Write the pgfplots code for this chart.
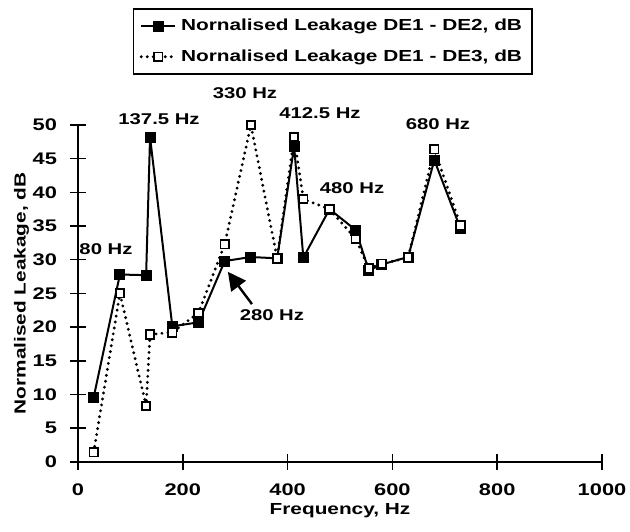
\documentclass[border=0pt]{standalone}
\usepackage{fontspec}
\setmainfont{Liberation Sans}[FakeStretch=1.3]
\usepackage{pgfplots}
\pgfplotsset{compat=1.18}
\usetikzlibrary{arrows.meta}
\begin{document}
\begin{tikzpicture}
\useasboundingbox (-39pt,-34.65pt) rectangle (276pt,230.85pt);
\begin{axis}[
  at={(0,0)}, anchor=south west,
  scale only axis,
  width=262pt, height=168.35pt,
  xmin=0, xmax=1000, ymin=0, ymax=50,
  xtick={0,200,...,1000}, ytick={0,5,...,50},
  axis x line*=bottom, axis y line*=left,
  axis line style={line width=0.8pt, -},
  tick align=center, major tick length=8pt,
  tick style={line width=0.8pt, black},
  /pgf/number format/assume math mode=true,
  /pgf/number format/1000 sep={},
  tick label style={font=\fontsize{8.4}{10}\selectfont\bfseries},
  yticklabel style={xshift=-3pt},
  xticklabel style={yshift=-3.5pt},
  xlabel={Frequency, Hz}, ylabel={Normalised Leakage, dB},
  label style={font=\fontsize{8}{10}\selectfont\bfseries},
  xlabel style={at={(axis description cs:0.5,-0.145)}, anchor=center},
  ylabel style={at={(axis description cs:-0.1078,0.5)}, anchor=center},
  clip=false,
  legend style={at={(0.868,1.3475)}, anchor=north east, draw=black, line width=0.8pt,
    font=\fontsize{8}{10}\selectfont\bfseries, row sep=4pt, inner ysep=3pt, inner xsep=3pt},
  legend cell align=left,
]
\addplot[black, line width=1pt, mark=square*, mark size=2.25pt, mark options={solid, fill=black}]
coordinates {(30,9.6) (80,27.8) (130,27.7) (137.5,48.2) (180,20.1) (230,20.7) (280,29.8) (330,30.4) (380,30.2) (412.5,46.8) (430,30.3) (480,37.5) (530,34.4) (555,28.4) (580,29.3) (630,30.4) (680,44.8) (730,34.6)};
\addlegendentry{Nornalised Leakage DE1 - DE2, dB}
\addplot[black, line width=1.6pt, dash pattern=on 0pt off 3pt, line cap=round, mark=square*, mark size=2.1pt, mark options={solid, fill=white, line width=0.9pt}]
coordinates {(30,1.4) (80,25.0) (130,8.3) (137.5,18.9) (180,19.2) (230,22.1) (280,32.3) (330,50.0) (380,30.2) (412.5,48.2) (430,39.0) (480,37.5) (530,33.1) (555,28.7) (580,29.4) (630,30.3) (680,46.4) (730,35.1)};
\addlegendentry{Nornalised Leakage DE1 - DE3, dB}
\begin{scope}[font=\fontsize{7.8}{10}\selectfont\bfseries]
\node at (axis cs:154.6,50.9) {137.5 Hz};
\node at (axis cs:318.7,54.7) {330 Hz};
\node at (axis cs:461.8,51.8) {412.5 Hz};
\node at (axis cs:53.4,31.6) {80 Hz};
\node at (axis cs:523,40.6) {480 Hz};
\node at (axis cs:687,50.1) {680 Hz};
\node at (axis cs:370,21.8) {280 Hz};
\end{scope}
\draw[line width=1.2pt, -{Triangle[length=9pt, width=9pt]}] (axis cs:332,23.4) -- (axis cs:286,28.2);
\end{axis}
\end{tikzpicture}
\end{document}
